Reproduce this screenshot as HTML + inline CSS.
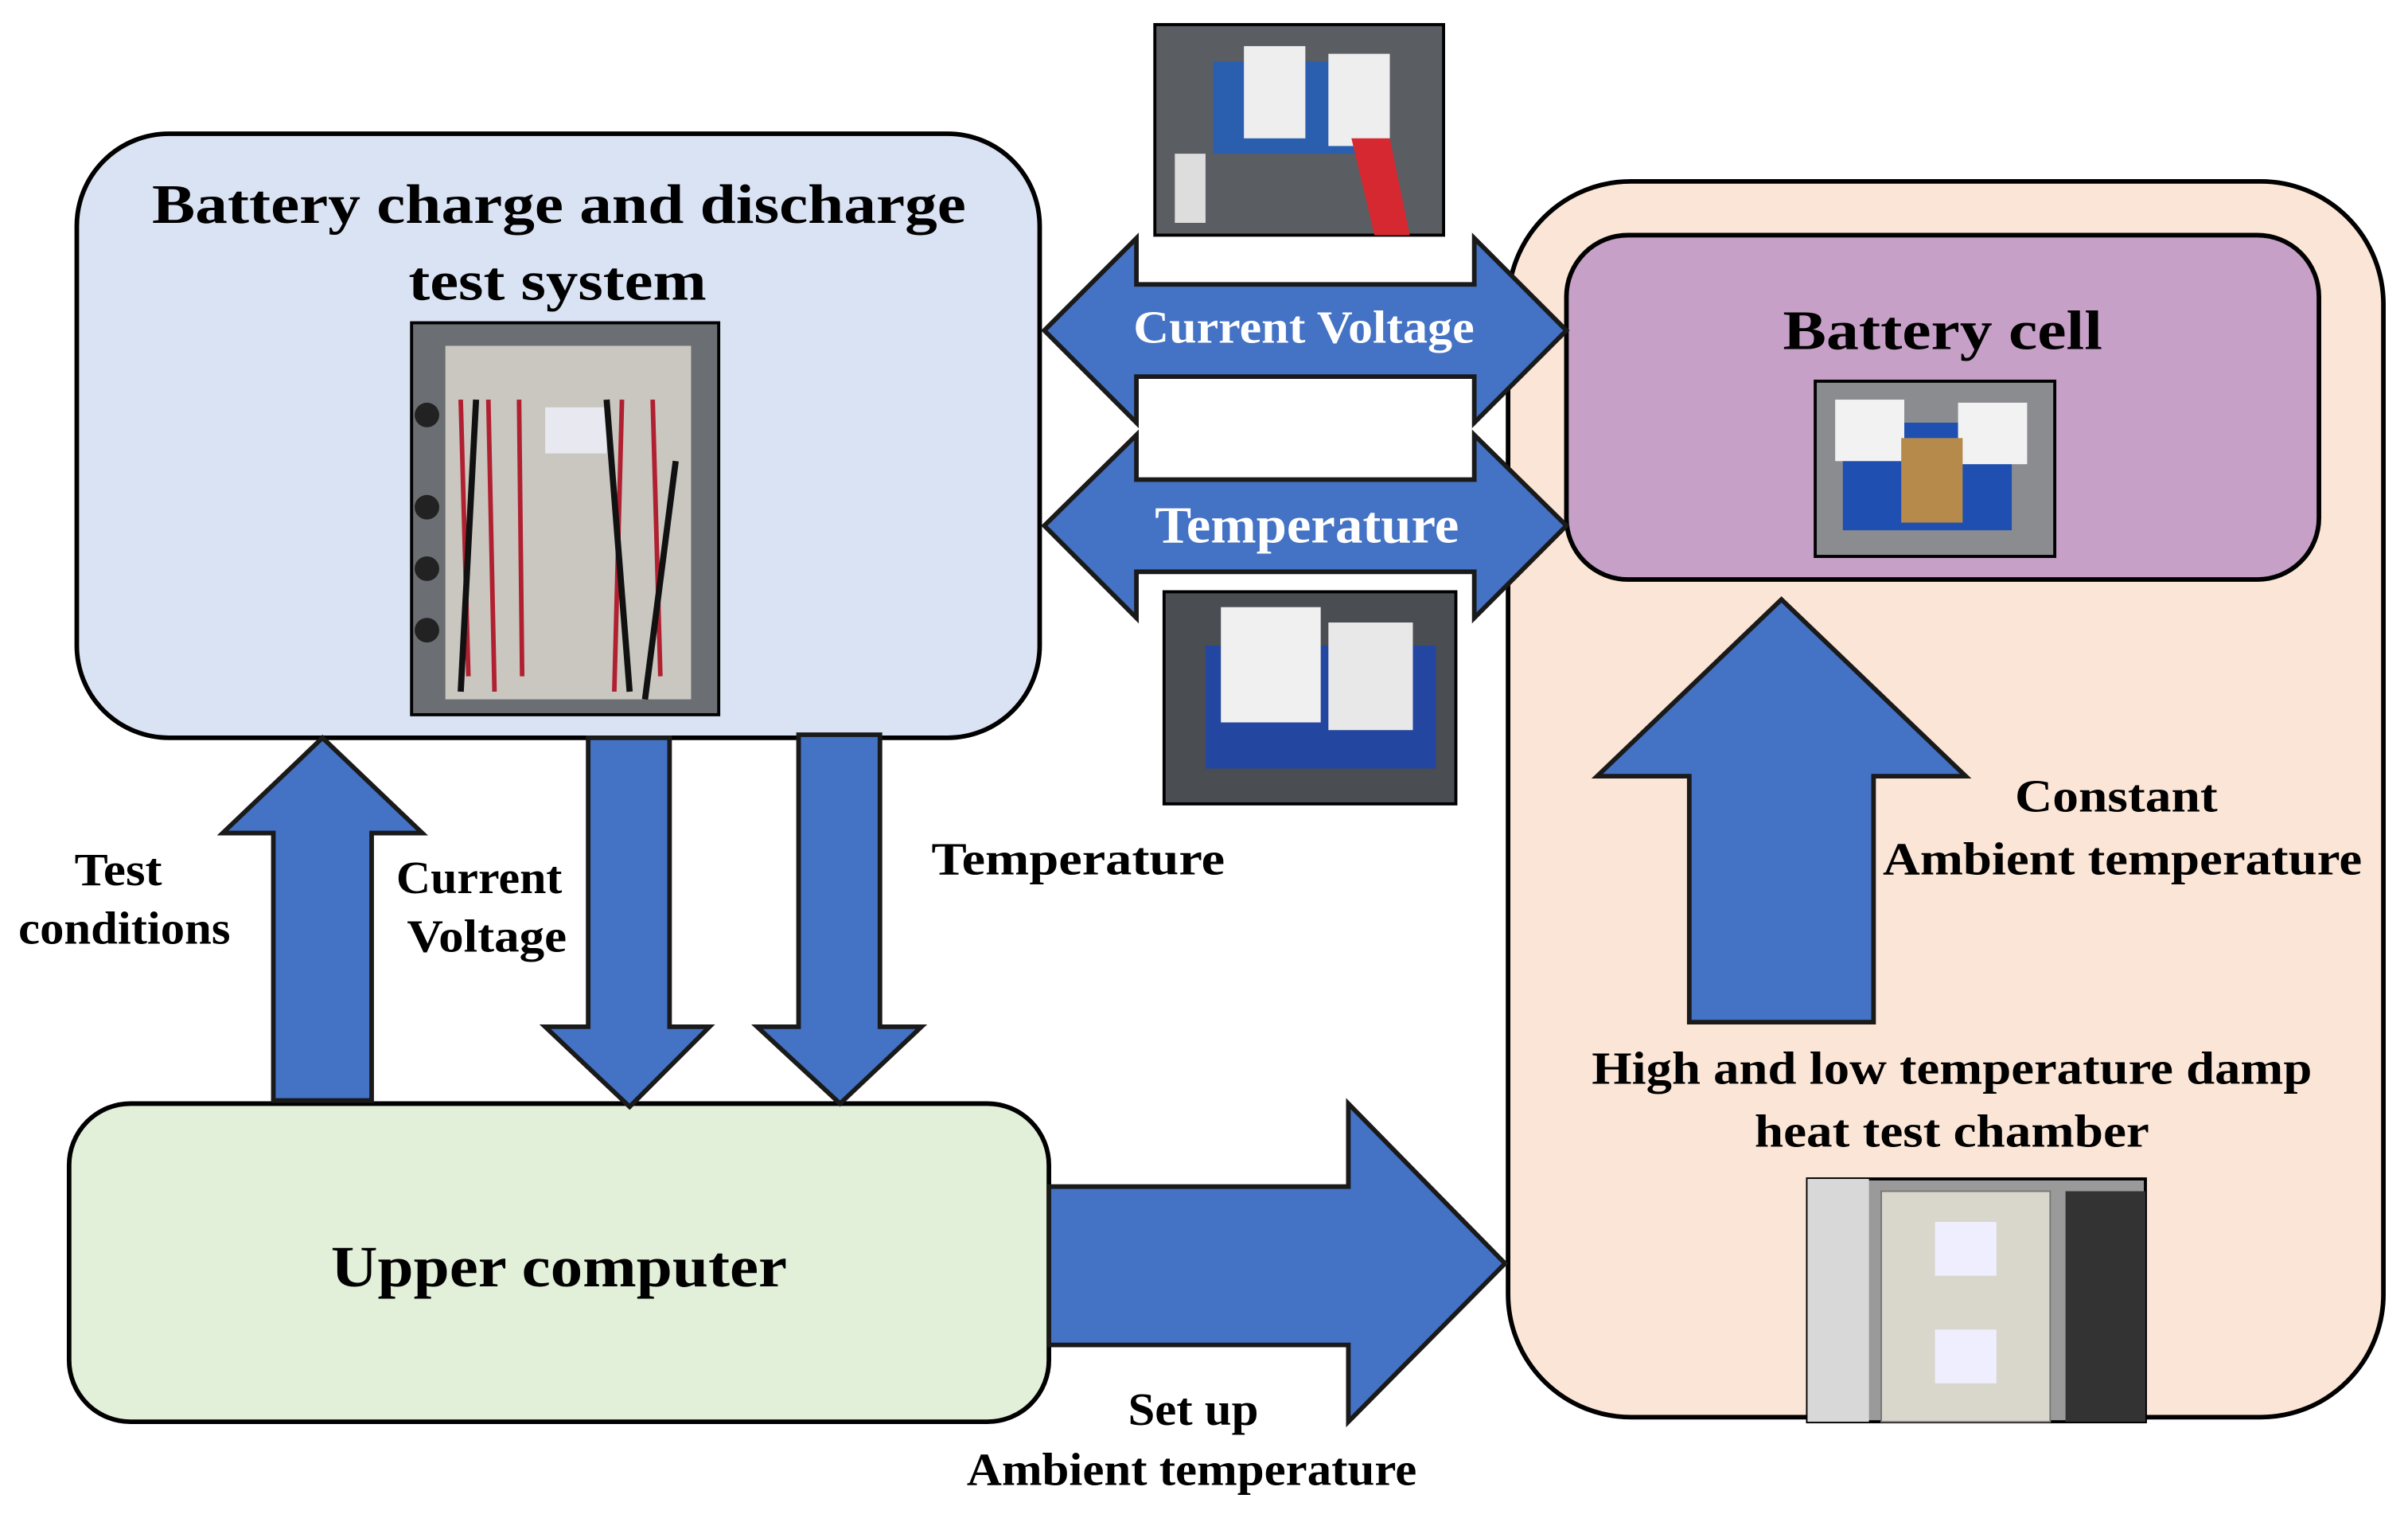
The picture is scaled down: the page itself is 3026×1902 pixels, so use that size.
<!DOCTYPE html>
<html><head><meta charset="utf-8"><style>
html,body{margin:0;padding:0;background:#fff}
svg{display:block}
text{font-family:"Liberation Serif",serif;font-weight:bold}
</style></head><body>
<svg width="3026" height="1902" viewBox="0 0 1568 985" preserveAspectRatio="none" xmlns="http://www.w3.org/2000/svg">
<rect width="1568" height="985" fill="#fff"/>
<rect x="982" y="118" width="570" height="804" rx="80" fill="#fbe5d6" stroke="#000" stroke-width="3"/>
<rect x="1020" y="153" width="490" height="224" rx="40" fill="#c7a0c7" stroke="#000" stroke-width="3"/>
<text x="1265" y="227" font-size="36" text-anchor="middle" textLength="208" lengthAdjust="spacingAndGlyphs">Battery cell</text>
<rect x="50" y="87" width="627" height="393" rx="60" fill="#dae3f3" stroke="#000" stroke-width="3"/>
<text x="364" y="145" font-size="36" text-anchor="middle" textLength="530" lengthAdjust="spacingAndGlyphs">Battery charge and discharge</text>
<text x="363" y="195" font-size="36" text-anchor="middle" textLength="194" lengthAdjust="spacingAndGlyphs">test system</text>
<rect x="45" y="718" width="638" height="207" rx="40" fill="#e2f0d9" stroke="#000" stroke-width="3"/>
<text x="364" y="837" font-size="38" text-anchor="middle" textLength="297" lengthAdjust="spacingAndGlyphs">Upper computer</text>

<g fill="#4472c4" stroke="#1a1a1a" stroke-width="3" stroke-linejoin="miter">
<polygon points="680,215 740,155 740,185 960,185 960,155 1020,215 960,275 960,245 740,245 740,275"/>
<polygon points="680,342 740,283 740,312 960,312 960,283 1020,342 960,402 960,372 740,372 740,402"/>
<polygon points="210,480 275,542 242,542 242,716 178,716 178,542 145,542"/>
<polygon points="383,480 436,480 436,668 462,668 410,720 355,668 383,668"/>
<polygon points="520,478 573,478 573,668 600,668 547,718 493,668 520,668"/>
<polygon points="1160,390 1280,505 1220,505 1220,665 1100,665 1100,505 1040,505"/>
<polygon points="683,772 878,772 878,718 980,822 878,925 878,875 683,875"/>
</g>
<text x="849" y="223" font-size="30" fill="#fff" text-anchor="middle" textLength="222" lengthAdjust="spacingAndGlyphs">Current Voltage</text>
<text x="851" y="353" font-size="34" fill="#fff" text-anchor="middle" textLength="198" lengthAdjust="spacingAndGlyphs">Temperature</text>

<g font-size="30" text-anchor="middle" fill="#000">
<text x="77" y="576" textLength="57" lengthAdjust="spacingAndGlyphs">Test</text>
<text x="81" y="614" textLength="138" lengthAdjust="spacingAndGlyphs">conditions</text>
<text x="312" y="581" textLength="108" lengthAdjust="spacingAndGlyphs">Current</text>
<text x="317" y="619" textLength="104" lengthAdjust="spacingAndGlyphs">Voltage</text>
<text x="702" y="569" textLength="191" lengthAdjust="spacingAndGlyphs">Temperature</text>
<text x="1378" y="528" textLength="132" lengthAdjust="spacingAndGlyphs">Constant</text>
<text x="1382" y="569" textLength="312" lengthAdjust="spacingAndGlyphs">Ambient temperature</text>
<text x="1271" y="705" textLength="469" lengthAdjust="spacingAndGlyphs">High and low temperature damp</text>
<text x="1271" y="746" textLength="257" lengthAdjust="spacingAndGlyphs">heat test chamber</text>
<text x="777" y="927" textLength="85" lengthAdjust="spacingAndGlyphs">Set up</text>
<text x="776" y="966" textLength="293" lengthAdjust="spacingAndGlyphs">Ambient temperature</text>
</g>

<g>
<rect x="268" y="210" width="200" height="255" fill="#6b6e72" stroke="#000" stroke-width="2"/>
<rect x="290" y="225" width="160" height="230" fill="#c9c7c0"/>
<circle cx="278" cy="270" r="8" fill="#222"/><circle cx="278" cy="330" r="8" fill="#222"/><circle cx="278" cy="370" r="8" fill="#222"/><circle cx="278" cy="410" r="8" fill="#222"/>
<rect x="355" y="265" width="40" height="30" fill="#e8e8f0"/>
<g stroke="#b02030" stroke-width="3" fill="none">
<path d="M300 260 L305 440"/><path d="M318 260 L322 450"/><path d="M338 260 L340 440"/><path d="M405 260 L400 450"/><path d="M425 260 L430 440"/>
</g>
<g stroke="#111" stroke-width="4" fill="none">
<path d="M310 260 L300 450"/><path d="M395 260 L410 450"/><path d="M440 300 L420 455"/>
</g>
</g>
<g>
<rect x="752" y="16" width="188" height="137" fill="#5a5d62" stroke="#000" stroke-width="2"/>
<rect x="790" y="40" width="110" height="60" fill="#2a5fb0"/>
<rect x="810" y="30" width="40" height="60" fill="#eee"/>
<rect x="865" y="35" width="40" height="60" fill="#eee"/>
<polygon points="880,90 905,90 918,153 895,153" fill="#d62830"/>
<rect x="765" y="100" width="20" height="45" fill="#ddd"/>
</g>
<g>
<rect x="758" y="385" width="190" height="138" fill="#4a4d52" stroke="#000" stroke-width="2"/>
<rect x="785" y="420" width="150" height="80" fill="#2346a0"/>
<rect x="795" y="395" width="65" height="75" fill="#f0f0f0"/>
<rect x="865" y="405" width="55" height="70" fill="#e8e8e8"/>
</g>
<g>
<rect x="1182" y="248" width="156" height="114" fill="#8a8c90" stroke="#000" stroke-width="2"/>
<rect x="1200" y="275" width="110" height="70" fill="#1f4fb0"/>
<rect x="1195" y="260" width="45" height="40" fill="#f2f2f2"/>
<rect x="1275" y="262" width="45" height="40" fill="#f2f2f2"/>
<rect x="1238" y="285" width="40" height="55" fill="#b58a4a"/>
</g>
<g>
<rect x="1177" y="767" width="220" height="158" fill="#9a9a9a" stroke="#000" stroke-width="2"/>
<rect x="1177" y="767" width="40" height="158" fill="#d8d8d8"/>
<rect x="1225" y="775" width="110" height="150" fill="#d9d6cc" stroke="#777"/>
<rect x="1260" y="795" width="40" height="35" fill="#eef"/>
<rect x="1260" y="865" width="40" height="35" fill="#eef"/>
<rect x="1345" y="775" width="52" height="150" fill="#333"/>
</g>
</svg>
</body></html>
